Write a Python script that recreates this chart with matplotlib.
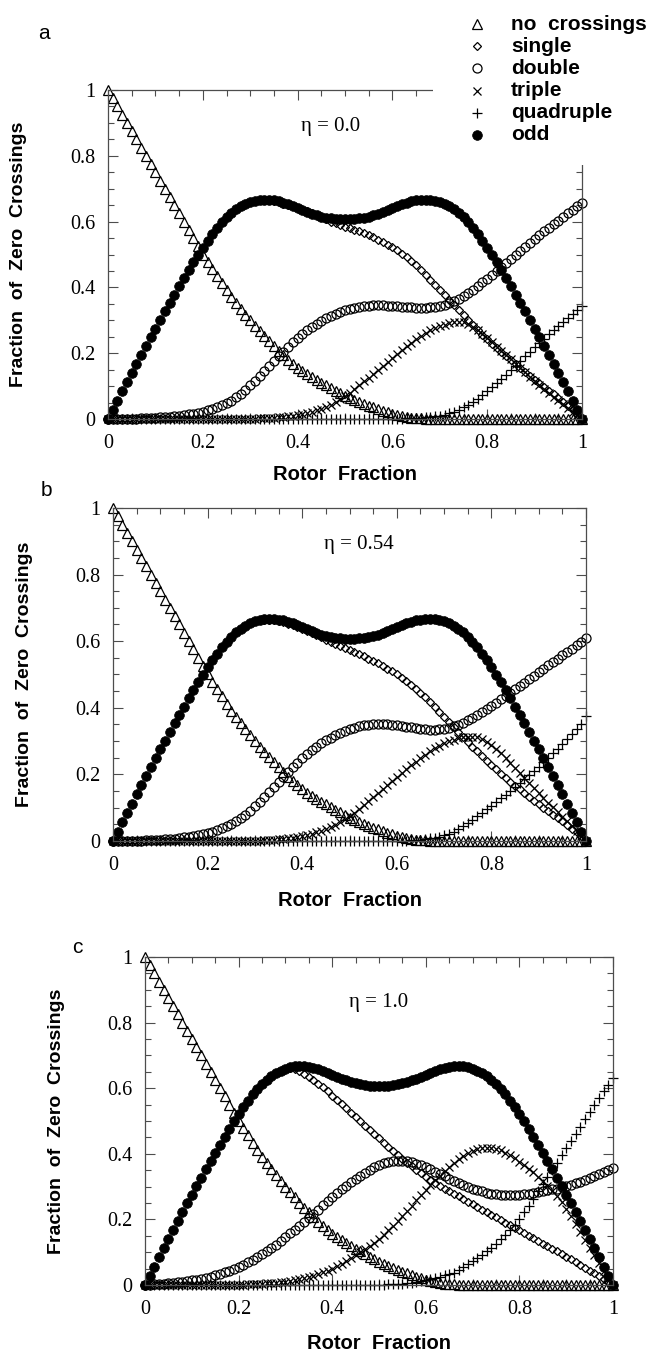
import numpy as np
import matplotlib
matplotlib.use('Agg')
import matplotlib.pyplot as plt
from matplotlib.lines import Line2D
from matplotlib.patches import Rectangle

# rotor fraction grid (101 samples, 0 .. 1)
rotor = np.linspace(0.0, 1.0, 101)

# ---- eta = 0.0 ----
none_a = [1.000, 0.975, 0.950, 0.925, 0.900, 0.875, 0.850, 0.825, 0.800, 0.775,
          0.750, 0.725, 0.700, 0.675, 0.650, 0.625, 0.600, 0.575, 0.550, 0.525,
          0.500, 0.478, 0.456, 0.434, 0.412, 0.391, 0.372, 0.353, 0.335, 0.317,
          0.300, 0.283, 0.267, 0.251, 0.236, 0.221, 0.207, 0.193, 0.180, 0.167,
          0.155, 0.145, 0.136, 0.127, 0.118, 0.110, 0.102, 0.094, 0.086, 0.078,
          0.070, 0.064, 0.058, 0.052, 0.046, 0.040, 0.035, 0.030, 0.025, 0.020,
          0.015, 0.012, 0.009, 0.006, 0.004, 0.003, 0.002, 0.001, 0.000, 0.000,
          0.000, 0.000, 0.000, 0.000, 0.000, 0.000, 0.000, 0.000, 0.000, 0.000,
          0.000, 0.000, 0.000, 0.000, 0.000, 0.000, 0.000, 0.000, 0.000, 0.000,
          0.000, 0.000, 0.000, 0.000, 0.000, 0.000, 0.000, 0.000, 0.000, 0.000,
          0.000]
single_a = [0.000, 0.028, 0.056, 0.084, 0.112, 0.140, 0.168, 0.195, 0.222, 0.249,
            0.275, 0.301, 0.327, 0.353, 0.378, 0.403, 0.428, 0.452, 0.476, 0.499,
            0.521, 0.542, 0.562, 0.581, 0.598, 0.613, 0.626, 0.637, 0.646, 0.653,
            0.659, 0.663, 0.666, 0.667, 0.665, 0.662, 0.659, 0.655, 0.651, 0.646,
            0.641, 0.636, 0.631, 0.625, 0.619, 0.613, 0.607, 0.600, 0.595, 0.590,
            0.585, 0.580, 0.575, 0.570, 0.564, 0.558, 0.552, 0.545, 0.538, 0.530,
            0.522, 0.513, 0.503, 0.492, 0.480, 0.467, 0.453, 0.438, 0.423, 0.408,
            0.392, 0.377, 0.362, 0.346, 0.331, 0.316, 0.300, 0.285, 0.270, 0.256,
            0.242, 0.229, 0.216, 0.203, 0.191, 0.179, 0.168, 0.156, 0.144, 0.132,
            0.120, 0.108, 0.097, 0.086, 0.075, 0.064, 0.052, 0.040, 0.028, 0.015,
            0.000]
double_a = [0.000, 0.000, 0.000, 0.000, 0.001, 0.001, 0.001, 0.002, 0.002, 0.003,
            0.004, 0.005, 0.006, 0.007, 0.008, 0.010, 0.012, 0.014, 0.016, 0.019,
            0.022, 0.026, 0.030, 0.035, 0.041, 0.048, 0.056, 0.066, 0.077, 0.089,
            0.102, 0.116, 0.130, 0.145, 0.160, 0.175, 0.190, 0.205, 0.219, 0.233,
            0.246, 0.258, 0.269, 0.280, 0.290, 0.299, 0.307, 0.314, 0.320, 0.326,
            0.331, 0.335, 0.338, 0.341, 0.343, 0.344, 0.345, 0.345, 0.345, 0.344,
            0.343, 0.342, 0.341, 0.340, 0.339, 0.338, 0.338, 0.338, 0.339, 0.341,
            0.344, 0.348, 0.353, 0.359, 0.366, 0.374, 0.383, 0.393, 0.404, 0.415,
            0.427, 0.439, 0.451, 0.463, 0.475, 0.487, 0.499, 0.511, 0.523, 0.535,
            0.547, 0.559, 0.570, 0.581, 0.592, 0.603, 0.614, 0.625, 0.636, 0.647,
            0.658]
triple_a = [0.000, 0.000, 0.000, 0.000, 0.000, 0.000, 0.000, 0.000, 0.000, 0.000,
            0.000, 0.000, 0.000, 0.000, 0.000, 0.000, 0.000, 0.000, 0.000, 0.000,
            0.000, 0.000, 0.000, 0.000, 0.000, 0.000, 0.000, 0.000, 0.000, 0.000,
            0.001, 0.001, 0.002, 0.002, 0.003, 0.004, 0.005, 0.006, 0.008, 0.010,
            0.012, 0.015, 0.018, 0.022, 0.026, 0.031, 0.037, 0.044, 0.052, 0.061,
            0.070, 0.080, 0.091, 0.102, 0.114, 0.126, 0.138, 0.150, 0.162, 0.174,
            0.186, 0.198, 0.210, 0.221, 0.232, 0.242, 0.252, 0.261, 0.269, 0.276,
            0.282, 0.287, 0.291, 0.294, 0.295, 0.294, 0.289, 0.281, 0.271, 0.259,
            0.246, 0.233, 0.220, 0.207, 0.194, 0.181, 0.168, 0.155, 0.142, 0.129,
            0.116, 0.104, 0.092, 0.080, 0.068, 0.057, 0.045, 0.034, 0.022, 0.011,
            0.000]
quad_a = [0.000, 0.000, 0.000, 0.000, 0.000, 0.000, 0.000, 0.000, 0.000, 0.000,
          0.000, 0.000, 0.000, 0.000, 0.000, 0.000, 0.000, 0.000, 0.000, 0.000,
          0.000, 0.000, 0.000, 0.000, 0.000, 0.000, 0.000, 0.000, 0.000, 0.000,
          0.000, 0.000, 0.000, 0.000, 0.000, 0.000, 0.000, 0.000, 0.000, 0.000,
          0.000, 0.000, 0.000, 0.000, 0.000, 0.000, 0.000, 0.000, 0.000, 0.000,
          0.000, 0.000, 0.000, 0.000, 0.000, 0.000, 0.000, 0.000, 0.000, 0.000,
          0.000, 0.001, 0.001, 0.002, 0.002, 0.003, 0.004, 0.005, 0.006, 0.008,
          0.010, 0.013, 0.017, 0.022, 0.028, 0.035, 0.043, 0.052, 0.062, 0.073,
          0.084, 0.096, 0.108, 0.121, 0.134, 0.148, 0.162, 0.176, 0.190, 0.204,
          0.218, 0.231, 0.244, 0.257, 0.270, 0.283, 0.296, 0.308, 0.320, 0.332,
          0.344]
odd_a = [0.000, 0.028, 0.056, 0.084, 0.112, 0.140, 0.168, 0.195, 0.222, 0.249,
         0.275, 0.301, 0.327, 0.353, 0.378, 0.403, 0.428, 0.452, 0.476, 0.499,
         0.521, 0.542, 0.562, 0.581, 0.598, 0.613, 0.626, 0.637, 0.646, 0.653,
         0.659, 0.663, 0.666, 0.667, 0.667, 0.665, 0.662, 0.658, 0.653, 0.647,
         0.641, 0.635, 0.629, 0.624, 0.619, 0.615, 0.612, 0.610, 0.608, 0.607,
         0.607, 0.607, 0.608, 0.610, 0.612, 0.615, 0.619, 0.624, 0.629, 0.635,
         0.641, 0.647, 0.653, 0.658, 0.662, 0.665, 0.667, 0.667, 0.666, 0.663,
         0.659, 0.653, 0.646, 0.637, 0.626, 0.613, 0.598, 0.581, 0.562, 0.542,
         0.521, 0.499, 0.476, 0.452, 0.428, 0.403, 0.378, 0.353, 0.327, 0.301,
         0.275, 0.249, 0.222, 0.195, 0.168, 0.140, 0.112, 0.084, 0.056, 0.028,
         0.000]

# ---- eta = 0.54 ----
none_b = list(none_a)
odd_b = list(odd_a)
single_b = [0.000, 0.028, 0.056, 0.084, 0.112, 0.140, 0.168, 0.195, 0.222, 0.249,
            0.275, 0.301, 0.327, 0.353, 0.378, 0.403, 0.428, 0.452, 0.476, 0.499,
            0.521, 0.542, 0.562, 0.581, 0.598, 0.613, 0.626, 0.637, 0.646, 0.653,
            0.659, 0.663, 0.665, 0.665, 0.663, 0.660, 0.656, 0.652, 0.647, 0.642,
            0.636, 0.630, 0.624, 0.618, 0.611, 0.604, 0.597, 0.590, 0.584, 0.578,
            0.572, 0.566, 0.560, 0.554, 0.547, 0.540, 0.533, 0.525, 0.517, 0.509,
            0.500, 0.490, 0.480, 0.469, 0.457, 0.444, 0.431, 0.417, 0.403, 0.388,
            0.373, 0.358, 0.343, 0.328, 0.313, 0.298, 0.283, 0.269, 0.255, 0.241,
            0.228, 0.215, 0.202, 0.190, 0.178, 0.166, 0.155, 0.143, 0.132, 0.121,
            0.110, 0.099, 0.089, 0.079, 0.069, 0.059, 0.048, 0.037, 0.026, 0.014,
            0.000]
double_b = [0.000, 0.000, 0.000, 0.000, 0.001, 0.001, 0.001, 0.002, 0.002, 0.003,
            0.004, 0.005, 0.006, 0.007, 0.009, 0.011, 0.013, 0.015, 0.018, 0.021,
            0.024, 0.028, 0.033, 0.038, 0.044, 0.051, 0.059, 0.068, 0.079, 0.091,
            0.104, 0.118, 0.132, 0.147, 0.162, 0.177, 0.192, 0.207, 0.221, 0.235,
            0.248, 0.260, 0.272, 0.283, 0.293, 0.302, 0.310, 0.318, 0.325, 0.331,
            0.336, 0.340, 0.344, 0.347, 0.349, 0.350, 0.351, 0.351, 0.350, 0.349,
            0.347, 0.345, 0.343, 0.341, 0.339, 0.337, 0.335, 0.334, 0.334, 0.335,
            0.337, 0.340, 0.344, 0.349, 0.355, 0.362, 0.370, 0.378, 0.387, 0.396,
            0.405, 0.415, 0.425, 0.435, 0.445, 0.455, 0.465, 0.475, 0.486, 0.496,
            0.507, 0.517, 0.527, 0.537, 0.547, 0.557, 0.567, 0.577, 0.587, 0.597,
            0.610]
triple_b = [0.000, 0.000, 0.000, 0.000, 0.000, 0.000, 0.000, 0.000, 0.000, 0.000,
            0.000, 0.000, 0.000, 0.000, 0.000, 0.000, 0.000, 0.000, 0.000, 0.000,
            0.000, 0.000, 0.000, 0.000, 0.000, 0.000, 0.000, 0.000, 0.000, 0.000,
            0.001, 0.001, 0.002, 0.003, 0.004, 0.005, 0.006, 0.008, 0.010, 0.012,
            0.015, 0.018, 0.022, 0.026, 0.031, 0.036, 0.042, 0.049, 0.057, 0.066,
            0.075, 0.085, 0.096, 0.107, 0.119, 0.131, 0.143, 0.155, 0.167, 0.179,
            0.191, 0.203, 0.215, 0.227, 0.238, 0.249, 0.259, 0.269, 0.278, 0.286,
            0.293, 0.299, 0.304, 0.308, 0.311, 0.313, 0.313, 0.311, 0.306, 0.298,
            0.288, 0.276, 0.263, 0.249, 0.234, 0.219, 0.204, 0.189, 0.174, 0.159,
            0.144, 0.129, 0.115, 0.101, 0.087, 0.073, 0.059, 0.045, 0.031, 0.016,
            0.000]
quad_b = [0.000, 0.000, 0.000, 0.000, 0.000, 0.000, 0.000, 0.000, 0.000, 0.000,
          0.000, 0.000, 0.000, 0.000, 0.000, 0.000, 0.000, 0.000, 0.000, 0.000,
          0.000, 0.000, 0.000, 0.000, 0.000, 0.000, 0.000, 0.000, 0.000, 0.000,
          0.000, 0.000, 0.000, 0.000, 0.000, 0.000, 0.000, 0.000, 0.000, 0.000,
          0.000, 0.000, 0.000, 0.000, 0.000, 0.000, 0.000, 0.000, 0.000, 0.000,
          0.000, 0.000, 0.000, 0.000, 0.000, 0.000, 0.000, 0.000, 0.000, 0.000,
          0.000, 0.001, 0.001, 0.002, 0.003, 0.004, 0.006, 0.008, 0.010, 0.013,
          0.017, 0.022, 0.028, 0.036, 0.045, 0.054, 0.064, 0.074, 0.084, 0.095,
          0.106, 0.117, 0.128, 0.139, 0.150, 0.161, 0.173, 0.185, 0.197, 0.210,
          0.223, 0.236, 0.249, 0.263, 0.277, 0.291, 0.305, 0.320, 0.335, 0.350,
          0.375]

# ---- eta = 1.0 ----
none_c = list(none_a)
odd_c = list(odd_a)
single_c = [0.000, 0.028, 0.056, 0.084, 0.112, 0.140, 0.168, 0.195, 0.222, 0.249,
            0.275, 0.301, 0.327, 0.353, 0.378, 0.403, 0.428, 0.452, 0.476, 0.499,
            0.521, 0.542, 0.562, 0.581, 0.598, 0.613, 0.626, 0.637, 0.646, 0.653,
            0.657, 0.660, 0.658, 0.652, 0.644, 0.635, 0.625, 0.614, 0.602, 0.590,
            0.577, 0.564, 0.551, 0.538, 0.525, 0.512, 0.499, 0.486, 0.473, 0.460,
            0.447, 0.434, 0.421, 0.409, 0.397, 0.385, 0.373, 0.362, 0.351, 0.340,
            0.330, 0.320, 0.311, 0.302, 0.294, 0.286, 0.278, 0.270, 0.262, 0.254,
            0.246, 0.238, 0.230, 0.222, 0.214, 0.206, 0.198, 0.190, 0.182, 0.174,
            0.166, 0.158, 0.150, 0.142, 0.134, 0.126, 0.118, 0.110, 0.102, 0.094,
            0.086, 0.078, 0.070, 0.062, 0.053, 0.044, 0.035, 0.026, 0.017, 0.008,
            0.000]
double_c = [0.000, 0.001, 0.002, 0.003, 0.004, 0.005, 0.006, 0.008, 0.010, 0.012,
            0.014, 0.016, 0.019, 0.022, 0.025, 0.029, 0.033, 0.038, 0.043, 0.049,
            0.055, 0.062, 0.069, 0.077, 0.085, 0.094, 0.103, 0.113, 0.123, 0.134,
            0.145, 0.157, 0.169, 0.181, 0.193, 0.205, 0.217, 0.230, 0.243, 0.256,
            0.268, 0.280, 0.291, 0.302, 0.313, 0.323, 0.332, 0.342, 0.351, 0.359,
            0.366, 0.371, 0.375, 0.378, 0.379, 0.379, 0.377, 0.374, 0.370, 0.365,
            0.359, 0.352, 0.345, 0.338, 0.331, 0.324, 0.317, 0.311, 0.305, 0.299,
            0.294, 0.289, 0.285, 0.281, 0.278, 0.276, 0.275, 0.274, 0.274, 0.274,
            0.275, 0.276, 0.278, 0.280, 0.282, 0.285, 0.288, 0.291, 0.294, 0.298,
            0.302, 0.306, 0.310, 0.315, 0.320, 0.325, 0.331, 0.337, 0.343, 0.350,
            0.358]
triple_c = [0.000, 0.000, 0.000, 0.000, 0.000, 0.000, 0.000, 0.000, 0.000, 0.000,
            0.000, 0.000, 0.000, 0.000, 0.000, 0.000, 0.000, 0.000, 0.000, 0.000,
            0.001, 0.001, 0.002, 0.002, 0.003, 0.004, 0.005, 0.006, 0.007, 0.008,
            0.010, 0.012, 0.014, 0.017, 0.020, 0.024, 0.028, 0.033, 0.038, 0.044,
            0.050, 0.057, 0.064, 0.072, 0.081, 0.090, 0.099, 0.109, 0.119, 0.129,
            0.140, 0.153, 0.167, 0.181, 0.195, 0.210, 0.226, 0.242, 0.258, 0.274,
            0.290, 0.305, 0.319, 0.333, 0.347, 0.360, 0.372, 0.383, 0.393, 0.402,
            0.409, 0.414, 0.417, 0.419, 0.418, 0.415, 0.410, 0.403, 0.395, 0.386,
            0.376, 0.366, 0.355, 0.343, 0.330, 0.316, 0.302, 0.287, 0.270, 0.252,
            0.232, 0.209, 0.185, 0.162, 0.138, 0.114, 0.090, 0.066, 0.043, 0.021,
            0.000]
quad_c = [0.000, 0.000, 0.000, 0.000, 0.000, 0.000, 0.000, 0.000, 0.000, 0.000,
          0.000, 0.000, 0.000, 0.000, 0.000, 0.000, 0.000, 0.000, 0.000, 0.000,
          0.000, 0.000, 0.000, 0.000, 0.000, 0.000, 0.000, 0.000, 0.000, 0.000,
          0.000, 0.000, 0.000, 0.000, 0.000, 0.000, 0.000, 0.000, 0.000, 0.000,
          0.000, 0.000, 0.000, 0.000, 0.000, 0.000, 0.000, 0.000, 0.000, 0.001,
          0.001, 0.001, 0.002, 0.002, 0.003, 0.003, 0.005, 0.007, 0.009, 0.012,
          0.015, 0.018, 0.021, 0.025, 0.029, 0.033, 0.037, 0.045, 0.054, 0.063,
          0.072, 0.082, 0.092, 0.103, 0.114, 0.126, 0.139, 0.153, 0.168, 0.184,
          0.202, 0.221, 0.242, 0.263, 0.285, 0.307, 0.329, 0.351, 0.373, 0.395,
          0.417, 0.439, 0.461, 0.483, 0.505, 0.527, 0.549, 0.570, 0.591, 0.611,
          0.632]

panels = [
    ('a', '\u03b7 = 0.0', none_a, single_a, double_a, triple_a, quad_a, odd_a),
    ('b', '\u03b7 = 0.54', none_b, single_b, double_b, triple_b, quad_b, odd_b),
    ('c', '\u03b7 = 1.0', none_c, single_c, double_c, triple_c, quad_c, odd_c),
]
labels = ['no  crossings', 'single', 'double', 'triple', 'quadruple', 'odd']

# axes rectangles in figure fractions
rects = [
    [0.1639, 0.6901, 0.7193, 0.2433],
    [0.1715, 0.3780, 0.7177, 0.2463],
    [0.2200, 0.0496, 0.7102, 0.2426],
]
letter_pos = [(0.066, 0.975), (0.071, 0.637), (0.118, 0.299)]
eta_pos = [(0.47, 0.89), (0.52, 0.89), (0.50, 0.86)]
xlabel_y = [-0.185, -0.195, -0.196]

styles = [
    dict(marker='^', ms=7, mfc='none', mec='k', mew=0.9),
    dict(marker='D', ms=4.2, mfc='none', mec='k', mew=0.9),
    dict(marker='o', ms=6.5, mfc='none', mec='k', mew=0.9),
    dict(marker='x', ms=6, mec='k', mew=0.9),
    dict(marker='+', ms=7, mec='k', mew=0.9),
    dict(marker='o', ms=7, mfc='k', mec='k', mew=0.5),
]

serif = 'Liberation Serif'
sans = 'Liberation Sans'

fig = plt.figure(figsize=(6.59, 13.52), dpi=100)

for i, (letter, eta, *series) in enumerate(panels):
    ax = fig.add_axes(rects[i])
    for vals, st in zip(series, styles):
        ax.plot(rotor, vals, ls='none', clip_on=False, **st)
    ax.set_xlim(0, 1)
    ax.set_ylim(0, 1)
    ax.set_xticks([0, 0.2, 0.4, 0.6, 0.8, 1])
    ax.set_xticklabels(['0', '0.2', '0.4', '0.6', '0.8', '1'])
    ax.set_yticks([0, 0.2, 0.4, 0.6, 0.8, 1])
    ax.set_yticklabels(['0', '0.2', '0.4', '0.6', '0.8', '1'])
    ax.set_xticks(np.arange(0, 1.001, 0.05), minor=True)
    ax.set_yticks(np.arange(0, 1.001, 0.05), minor=True)
    ax.tick_params(which='both', direction='in', top=True, right=True,
                   color='0.3', width=0.8)
    ax.tick_params(which='major', length=7)
    ax.tick_params(which='minor', length=4)
    ax.tick_params(axis='x', pad=11)
    ax.tick_params(axis='y', pad=9)
    for lab in ax.get_xticklabels() + ax.get_yticklabels():
        lab.set_fontfamily(serif)
        lab.set_fontsize(14.5)
    for sp in ax.spines.values():
        sp.set_color('0.3')
        sp.set_linewidth(0.9)
    ax.set_xlabel('Rotor  Fraction', fontfamily=sans, fontweight='bold',
                  fontsize=14.5, va='baseline')
    ax.set_ylabel('Fraction  of  Zero  Crossings', fontfamily=sans,
                  fontweight='bold', fontsize=14)
    ax.xaxis.set_label_coords(0.5, xlabel_y[i])
    ax.yaxis.set_label_coords(-0.17, 0.5)
    ax.text(eta_pos[i][0], eta_pos[i][1], eta, transform=ax.transAxes,
            fontfamily=serif, fontsize=15, ha='center', va='center')
    fig.text(letter_pos[i][0], letter_pos[i][1], letter, fontfamily=sans,
             fontsize=15, ha='center', va='center')

# legend block at the top right, masking the corner of the first frame
fig.add_artist(Rectangle((0.657, 0.878), 0.343, 0.122, transform=fig.transFigure,
                         facecolor='white', edgecolor='none', zorder=3))
for k, (lab, st) in enumerate(zip(labels, styles)):
    yk = 1 - (24 + 22.2 * k) / 1352
    fig.add_artist(Line2D([477 / 659], [yk], transform=fig.transFigure, ls='none',
                          zorder=4, **st))
    fig.text(511 / 659, yk, lab, fontfamily=sans, fontweight='bold', fontsize=15,
             ha='left', va='center', zorder=4)

fig.savefig('out.png', dpi=100)
